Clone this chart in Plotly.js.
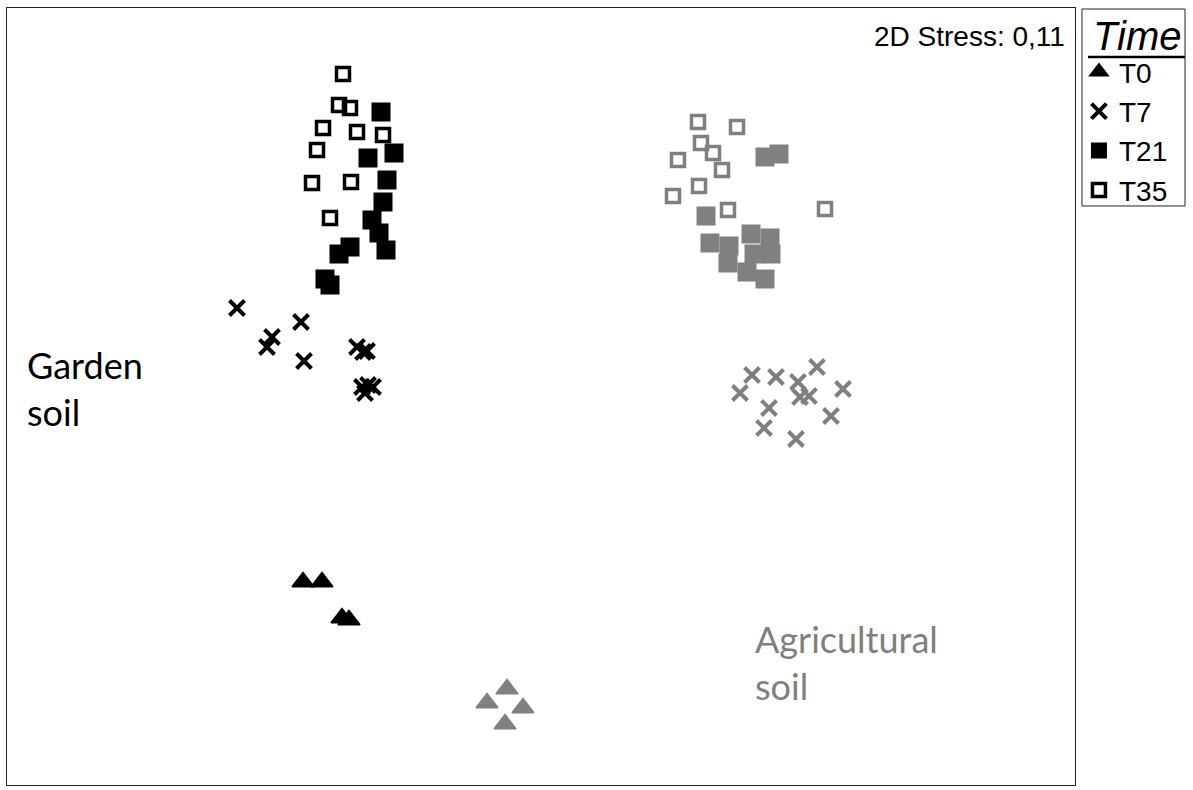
<!DOCTYPE html>
<html>
<head>
<meta charset="utf-8">
<script src="https://cdn.plot.ly/plotly-3.0.1.min.js"></script>
<style>html,body{margin:0;padding:0;background:#fff;}#chart{width:1193px;height:790px;}</style>
</head>
<body>
<div id="chart"></div>
<script>
// NMDS ordination coordinates (arbitrary units; y grows downward)
var timeNames = ['T0', 'T7', 'T21', 'T35'];
var legendTitle = 'Time';
var stressLabel = '2D Stress: 0,11';
var groupLabels = ['Garden<br>soil', 'Agricultural<br>soil'];

// Garden soil
var gardenT0x  = [303, 322, 342, 349];
var gardenT0y  = [582, 582, 618, 620];
var gardenT7x  = [237, 272, 267, 301, 304, 357, 363, 367, 362, 368, 373, 365];
var gardenT7y  = [308, 337, 347, 322, 361, 347, 352, 351, 387, 385, 387, 393];
var gardenT21x = [381, 368, 394, 387, 383, 372, 379, 386, 350, 339, 325, 330];
var gardenT21y = [112, 158, 153, 180, 202, 220, 233, 250, 247, 254, 279, 285];
var gardenT35x = [343, 339, 350, 323, 357, 383, 317, 312, 351, 330];
var gardenT35y = [74, 105, 108, 128, 132, 135, 150, 183, 182, 218];

// Agricultural soil
var agriT0x  = [507, 487, 523, 505];
var agriT0y  = [689, 703, 708, 724];
var agriT7x  = [752, 776, 817, 740, 798, 800, 809, 843, 769, 831, 764, 796];
var agriT7y  = [375, 377, 367, 393, 382, 397, 396, 389, 408, 416, 428, 439];
var agriT21x = [765, 779, 706, 710, 729, 751, 770, 754, 771, 728, 747, 765];
var agriT21y = [157, 154, 216, 243, 246, 234, 238, 254, 254, 263, 272, 279];
var agriT35x = [698, 737, 701, 713, 678, 722, 699, 673, 728, 825];
var agriT35y = [122, 127, 143, 153, 160, 170, 186, 196, 210, 209];

var BLACK = '#000000', GREY = '#808080';
var ARIAL = 'Liberation Sans, Arial, sans-serif';

function tri(x, y, c, name, show) {
  return {x: x, y: y, name: name, showlegend: show, mode: 'markers', type: 'scatter', hoverinfo: 'skip',
    marker: {symbol: 'triangle-up', size: 19, color: c, line: {width: 1.5, color: c}}};
}
function cross(x, y, c, name, show) {
  return {x: x, y: y, name: name, showlegend: show, mode: 'markers', type: 'scatter', hoverinfo: 'skip',
    marker: {symbol: 'x-thin-open', size: 15, color: c, line: {width: 4, color: c}}};
}
function fsq(x, y, c, name, show) {
  return {x: x, y: y, name: name, showlegend: show, mode: 'markers', type: 'scatter', hoverinfo: 'skip',
    marker: {symbol: 'square', size: 19, color: c, line: {width: 0}}};
}
function osq(x, y, c, name, show) {
  return {x: x, y: y, name: name, showlegend: show, mode: 'markers', type: 'scatter', hoverinfo: 'skip',
    marker: {symbol: 'square-open', size: 13, color: c, line: {width: 3.5, color: c}}};
}

var data = [
  tri(gardenT0x, gardenT0y, BLACK, timeNames[0], true),
  cross(gardenT7x, gardenT7y, BLACK, timeNames[1], true),
  fsq(gardenT21x, gardenT21y, BLACK, timeNames[2], true),
  osq(gardenT35x, gardenT35y, BLACK, timeNames[3], true),
  tri(agriT0x, agriT0y, GREY, timeNames[0], false),
  cross(agriT7x, agriT7y, GREY, timeNames[1], false),
  fsq(agriT21x, agriT21y, GREY, timeNames[2], false),
  osq(agriT35x, agriT35y, GREY, timeNames[3], false)
];

var axisCommon = {showgrid: false, zeroline: false, showticklabels: false, ticks: '',
  showline: true, mirror: true, linecolor: '#222', linewidth: 1, fixedrange: true};

var layout = {
  width: 1193, height: 790,
  margin: {l: 7, r: 118, t: 8, b: 5},
  paper_bgcolor: '#ffffff', plot_bgcolor: '#ffffff',
  font: {family: ARIAL, color: '#000'},
  xaxis: Object.assign({range: [7, 1075]}, axisCommon),
  yaxis: Object.assign({range: [785, 8]}, axisCommon),
  showlegend: true,
  legend: {
    x: 1.0037, xanchor: 'left', y: 0.9498, yanchor: 'top',
    borderwidth: 0, bgcolor: 'rgba(0,0,0,0)',
    font: {family: ARIAL, size: 28, color: '#000'},
    itemwidth: 30, tracegroupgap: 0
  },
  shapes: [
    {type: 'rect', xref: 'paper', yref: 'paper', x0: 1.00655, x1: 1.103, y0: 0.7452, y1: 0.9987,
     line: {color: '#222', width: 1}, fillcolor: 'rgba(0,0,0,0)'},
    {type: 'line', xref: 'paper', yref: 'paper', x0: 1.0122, x1: 1.103, y0: 0.9369, y1: 0.9369,
     line: {color: '#000', width: 2.5}}
  ],
  annotations: [
    {text: '<i>' + legendTitle + '</i>', xref: 'paper', yref: 'paper', x: 1.0150, y: 0.9640,
     xanchor: 'left', yanchor: 'middle', showarrow: false,
     font: {family: ARIAL, size: 40, color: '#000'}},
    {text: groupLabels[0], xref: 'x', yref: 'y', x: 25, y: 388, xanchor: 'left', yanchor: 'middle',
     align: 'left', showarrow: false, font: {family: 'Lato, sans-serif', size: 36, color: '#000'}},
    {text: groupLabels[1], xref: 'x', yref: 'y', x: 753, y: 662, xanchor: 'left', yanchor: 'middle',
     align: 'left', showarrow: false, font: {family: 'Lato, sans-serif', size: 36, color: '#7f7f7f'}},
    {text: stressLabel, xref: 'x', yref: 'y', x: 1067, y: 36, xanchor: 'right', yanchor: 'middle',
     showarrow: false, font: {family: ARIAL, size: 28, color: '#000'}}
  ]
};

Plotly.newPlot('chart', data, layout, {displayModeBar: false, staticPlot: true});
</script>
</body>
</html>
